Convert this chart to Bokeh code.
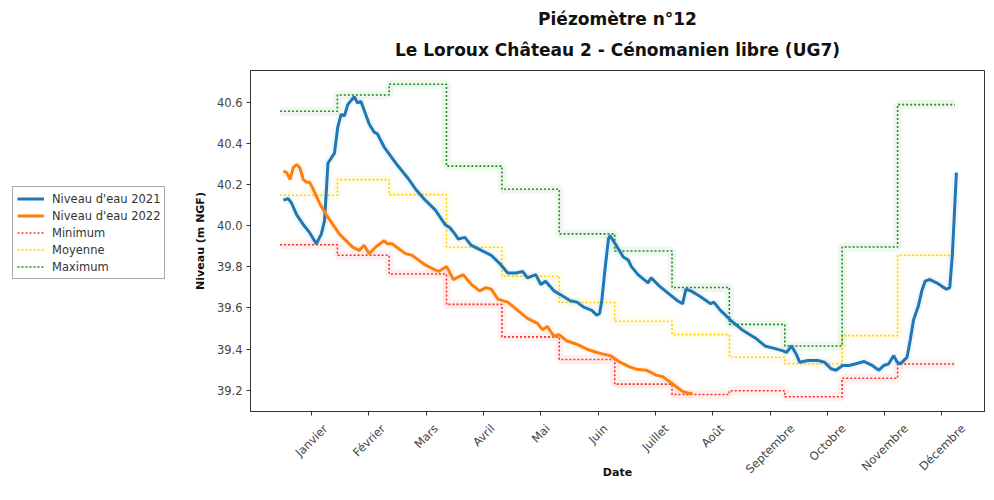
import math
from bokeh.plotting import figure
from bokeh.layouts import row
from bokeh.models import (Range1d, FixedTicker, Legend, LegendItem, Title,
                          LinearAxis, PrintfTickFormatter)
from bokeh.embed import file_html
from bokeh.resources import INLINE

# ---------------- data ----------------
months = ["Janvier", "Février", "Mars", "Avril", "Mai", "Juin", "Juillet",
          "Août", "Septembre", "Octobre", "Novembre", "Décembre"]
month_start_days = [0, 31, 59, 90, 120, 151, 181, 212, 243, 273, 304, 334]
year_end_day = 365
tick_days = [17, 48, 79, 110, 141, 172, 203, 234, 265, 296, 327, 358]
y_ticks = [39.2, 39.4, 39.6, 39.8, 40.0, 40.2, 40.4, 40.6]

minimum = [39.907, 39.856, 39.765, 39.617, 39.459, 39.349, 39.229, 39.179,
           39.197, 39.168, 39.258, 39.327]
moyenne = [40.148, 40.224, 40.151, 39.895, 39.754, 39.626, 39.535, 39.470,
           39.360, 39.328, 39.465, 39.856]
maximum = [40.557, 40.636, 40.688, 40.290, 40.177, 39.960, 39.877, 39.699,
           39.520, 39.415, 39.896, 40.589]

days_2021 = [1.8, 4.4, 6.3, 9.0, 12.5, 16.0, 19.6, 22.3, 24.0, 25.0, 25.9, 27.7,
             29.4, 31.2, 33.0, 34.8, 36.6, 40.1, 41.9, 43.7, 48.2, 50.9, 52.6,
             56.2, 62.5, 69.6, 73.2, 78.5, 83.9, 89.2, 91.9, 94.6, 96.4, 99.9,
             103.5, 107.0, 114.2, 118.7, 123.1, 127.6, 131.2, 133.8, 138.3, 141.0,
             143.6, 148.1, 152.6, 157.0, 160.6, 164.2, 168.6, 171.3, 172.8, 174.0,
             175.8, 177.6, 178.5, 182.1, 185.6, 188.3, 190.0, 193.6, 199.0, 200.7,
             205.2, 210.5, 215.0, 217.7, 219.5, 222.2, 226.6, 232.9, 234.6, 238.2,
             243.6, 249.8, 257.0, 262.3, 267.7, 272.1, 273.9, 276.6, 279.2, 281.0,
             285.5, 290.9, 294.4, 298.0, 300.7, 304.3, 307.8, 311.4, 315.9, 320.3,
             323.9, 326.6, 329.2, 331.9, 333.7, 335.5, 339.1, 340.9, 342.6, 345.3,
             347.1, 348.9, 351.5, 355.1, 357.8, 360.4, 362.2, 363.6, 364.9, 365.8]
niveau_2021 = [40.124, 40.132, 40.108, 40.053, 40.006, 39.966, 39.912, 39.959,
               40.022, 40.164, 40.305, 40.329, 40.353, 40.479, 40.542, 40.534,
               40.589, 40.628, 40.597, 40.605, 40.495, 40.455, 40.447, 40.384,
               40.305, 40.226, 40.179, 40.124, 40.077, 40.006, 39.990, 39.959,
               39.935, 39.943, 39.904, 39.888, 39.856, 39.817, 39.770, 39.770,
               39.777, 39.746, 39.762, 39.714, 39.730, 39.683, 39.659, 39.635,
               39.628, 39.604, 39.588, 39.565, 39.573, 39.635, 39.793, 39.935,
               39.951, 39.900, 39.848, 39.833, 39.801, 39.762, 39.722, 39.746,
               39.706, 39.667, 39.635, 39.620, 39.691, 39.683, 39.659, 39.620,
               39.628, 39.588, 39.541, 39.494, 39.454, 39.415, 39.402, 39.391,
               39.383, 39.415, 39.375, 39.336, 39.344, 39.344, 39.336, 39.304,
               39.297, 39.320, 39.320, 39.328, 39.339, 39.320, 39.297, 39.320,
               39.328, 39.368, 39.336, 39.328, 39.360, 39.446, 39.541, 39.612,
               39.683, 39.730, 39.738, 39.722, 39.706, 39.691, 39.699, 39.856,
               40.093, 40.258]

days_2022 = [1.8, 3.6, 5.4, 7.1, 9.0, 10.7, 12.5, 14.3, 16.0, 17.8, 21.4, 25.0,
             28.5, 32.1, 35.7, 39.2, 42.8, 45.5, 48.2, 51.7, 56.2, 58.0, 60.6,
             64.2, 67.8, 71.3, 74.9, 78.5, 82.1, 85.7, 90.1, 93.7, 99.0, 103.5,
             107.9, 111.5, 114.2, 117.8, 123.1, 128.5, 133.8, 139.2, 141.9, 144.5,
             148.1, 150.8, 155.2, 160.6, 166.0, 171.3, 174.9, 178.5, 183.8, 189.1,
             192.7, 198.1, 203.4, 207.0, 210.5, 214.1, 217.7, 220.4, 223.0]
niveau_2022 = [40.266, 40.258, 40.226, 40.282, 40.297, 40.282, 40.226, 40.211,
               40.211, 40.179, 40.108, 40.053, 40.006, 39.959, 39.927, 39.896,
               39.880, 39.904, 39.864, 39.896, 39.927, 39.912, 39.912, 39.888,
               39.864, 39.856, 39.833, 39.809, 39.793, 39.777, 39.801, 39.738,
               39.762, 39.714, 39.683, 39.699, 39.691, 39.643, 39.628, 39.588,
               39.549, 39.525, 39.494, 39.510, 39.462, 39.470, 39.439, 39.423,
               39.399, 39.383, 39.375, 39.368, 39.336, 39.313, 39.302, 39.297,
               39.273, 39.265, 39.242, 39.218, 39.194, 39.186, 39.182]

# ---------------- styles ----------------
FONT = "DejaVu Sans"
C21, C22 = "#1f77b4", "#ff7f0e"
step_specs = [("Minimum", minimum, "#ff2a2a"),
              ("Moyenne", moyenne, "#ffd000"),
              ("Maximum", maximum, "#1f8f1f")]

# ---------------- main figure ----------------
X0, X1 = -16, 381
p = figure(width=796, height=484,
           x_range=Range1d(X0, X1), y_range=Range1d(39.096, 40.755),
           output_backend="svg", toolbar_location=None,
           min_border_left=60, min_border_right=2,
           min_border_top=70, min_border_bottom=73)
p.xgrid.visible = False
p.ygrid.visible = False
p.outline_line_color = "#333333"
p.outline_line_width = 1

# titles
p.title.text = "Piézomètre n°12"
p.title.align = "center"
p.title.text_font = FONT
p.title.text_font_size = "17px"
p.title.text_font_style = "bold"
p.title.text_color = "#111111"
p.title.standoff = -4
p.add_layout(Title(text="Le Loroux Château 2 - Cénomanien libre (UG7)",
                   align="center", text_font=FONT, text_font_size="17px",
                   text_font_style="bold", text_color="#111111",
                   standoff=22), "above")

# step series
step_x = month_start_days + [year_end_day]
def stepped(vals):
    return vals + [vals[-1]]

step_renderers = {}
for name, vals, col in step_specs:
    p.step(step_x, stepped(vals), mode="after", line_color=col,
           line_width=9, line_alpha=0.07)
for name, vals, col in step_specs:
    step_renderers[name] = p.step(step_x, stepped(vals), mode="after",
                                  line_color=col, line_width=1.6,
                                  line_dash="2 2")

# water levels
p.line(days_2021, niveau_2021, line_color=C21, line_width=8, line_alpha=0.06)
p.line(days_2022, niveau_2022, line_color=C22, line_width=8, line_alpha=0.06)
p.line(days_2021, niveau_2021, line_color=C21, line_width=3)
p.line(days_2022, niveau_2022, line_color=C22, line_width=3)

# y axis
yax = p.yaxis[0]
yax.ticker = FixedTicker(ticks=y_ticks)
yax.formatter = PrintfTickFormatter(format="%.1f")
yax.minor_tick_line_color = None
yax.major_tick_out = 4
yax.major_tick_in = 0
yax.major_tick_line_color = "#333333"
yax.axis_line_color = "#333333"
yax.major_label_text_font = FONT
yax.major_label_text_font_size = "11.5px"
yax.major_label_text_color = "#444444"
yax.major_label_standoff = 4
yax.axis_label = "Niveau (m NGF)"
yax.axis_label_text_font = FONT
yax.axis_label_text_font_size = "11px"
yax.axis_label_text_font_style = "bold"
yax.axis_label_text_color = "#111111"
yax.axis_label_standoff = 7

# x axis: tick marks only
xax = p.xaxis[0]
xax.ticker = FixedTicker(ticks=tick_days)
xax.minor_tick_line_color = None
xax.major_tick_out = 4
xax.major_tick_in = 0
xax.major_tick_line_color = "#333333"
xax.axis_line_color = "#333333"
xax.major_label_text_color = None
xax.major_label_text_font_size = "0px"
xax.major_label_standoff = 0

# second axis carrying the rotated month names, centred under each tick
cw = {"J": .295, "a": .613, "n": .634, "v": .592, "i": .278, "e": .615, "r": .411,
      "F": .575, "é": .615, "M": .863, "s": .521, "A": .684, "l": .278, "u": .634,
      "û": .634, "t": .392, "S": .635, "p": .635, "m": .974, "b": .635, "O": .787,
      "c": .550, "o": .612, "N": .748, "D": .770}
FS = 11.5
px_per_day = (796 - 60 - 2) / (X1 - X0)
label_pos, overrides = [], {}
for d, m in zip(tick_days, months):
    w = sum(cw.get(ch, .6) for ch in m) * FS
    pos = round(d + (w / (2 * math.sqrt(2))) / px_per_day, 3)
    label_pos.append(pos)
    overrides[pos] = m
lax = LinearAxis(ticker=FixedTicker(ticks=label_pos),
                 major_label_overrides=overrides,
                 major_label_orientation=math.pi / 4,
                 major_label_standoff=11,
                 major_label_text_font=FONT,
                 major_label_text_font_size="11.5px",
                 major_label_text_color="#444444",
                 major_tick_line_color=None, minor_tick_line_color=None,
                 major_tick_out=0, major_tick_in=0,
                 axis_line_color=None,
                 axis_label="Date", axis_label_text_font=FONT,
                 axis_label_text_font_size="11px",
                 axis_label_text_font_style="bold",
                 axis_label_text_color="#111111",
                 axis_label_standoff=-18)
p.add_layout(lax, "below")

# ---------------- legend panel (left) ----------------
lf = figure(width=190, height=484, output_backend="svg", toolbar_location=None,
            x_axis_location=None, y_axis_location=None, min_border=0,
            x_range=Range1d(0, 1), y_range=Range1d(0, 1))
lf.outline_line_color = None
for g in lf.grid:
    g.visible = False
# legend samples (kept outside the visible range of this panel)
off = [5, 6]
l21 = lf.line(off, off, line_color=C21, line_width=3)
l22 = lf.line(off, off, line_color=C22, line_width=3)
lsteps = {name: lf.line(off, off, line_color=col, line_width=1.6, line_dash="2 2")
          for name, vals, col in step_specs}
legend = Legend(items=[
    LegendItem(label="Niveau d'eau 2021", renderers=[l21]),
    LegendItem(label="Niveau d'eau 2022", renderers=[l22]),
    LegendItem(label="Minimum", renderers=[lsteps["Minimum"]]),
    LegendItem(label="Moyenne", renderers=[lsteps["Moyenne"]]),
    LegendItem(label="Maximum", renderers=[lsteps["Maximum"]]),
], location=(12, 132))
legend.label_text_font = FONT
legend.label_text_font_size = "11.5px"
legend.label_text_color = "#333333"
legend.glyph_width = 27
legend.glyph_height = 15
legend.label_height = 15
legend.spacing = 2
legend.padding = 4
legend.margin = 0
legend.label_standoff = 8
legend.border_line_color = "#555555"
legend.border_line_width = 1
legend.background_fill_color = "white"
legend.background_fill_alpha = 1
lf.add_layout(legend)

layout = row(lf, p)
open("out.html", "w").write(file_html(layout, INLINE))
